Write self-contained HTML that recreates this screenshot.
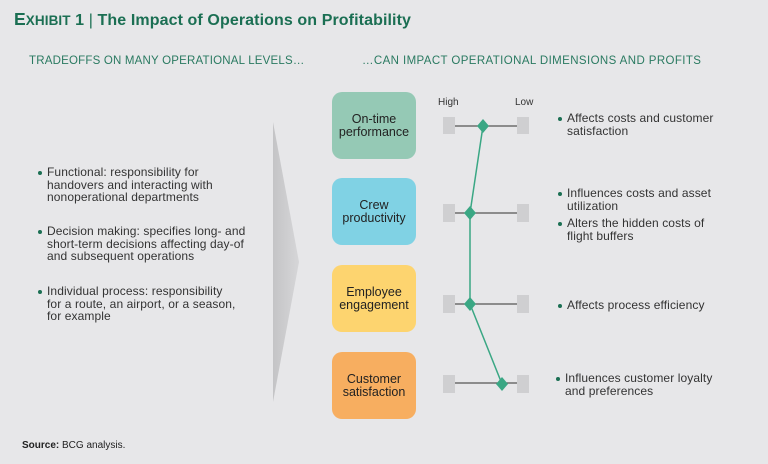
<!DOCTYPE html>
<html><head><style>
body{margin:0;width:768px;height:464px;background:#e7e7e9;font-family:"Liberation Sans",sans-serif;position:relative;overflow:hidden}
.a{position:absolute}
.t{color:#1b6f53;font-weight:bold;font-size:16px;left:14px;top:9px;letter-spacing:0.1px}
.h{color:#2a7a61;font-size:11.5px;letter-spacing:0.2px}
.box{position:absolute;left:332px;width:84px;height:67px;border-radius:10px;display:flex;align-items:center;justify-content:center;text-align:center;font-size:12.5px;line-height:13px;color:#222}
.bl{font-size:12px;line-height:12.5px;color:#333;letter-spacing:0.1px}
.bl:before{content:"";position:absolute;left:-9px;top:5px;width:4px;height:4px;border-radius:50%;background:#1b6f53}
.l{font-size:12px;line-height:12.5px;color:#333;letter-spacing:0.1px}
.l:before{content:"";position:absolute;left:-9px;top:5px;width:4px;height:4px;border-radius:50%;background:#1b6f53}
</style></head><body>
<div class="a t"><span style="font-size:17.5px">E</span><span style="font-size:13.5px">XHIBIT</span> 1<span style="font-weight:normal;color:#1b6f53"> | </span>The Impact of Operations on Profitability</div>
<div class="a h" style="left:29px;top:55px">TRADEOFFS ON MANY OPERATIONAL LEVELS…</div>
<div class="a h" style="left:362px;top:55px;letter-spacing:0.4px">…CAN IMPACT OPERATIONAL DIMENSIONS AND PROFITS</div>
<svg class="a" style="left:0;top:0" width="768" height="464">
<defs><linearGradient id="g" x1="0" x2="1"><stop offset="0" stop-color="#c4c4c6"/><stop offset="1" stop-color="#d6d6d8"/></linearGradient></defs>
<polygon points="273,122 299,262 273,402" fill="url(#g)"/>
<g fill="#cfcfd1"><rect x="443" y="117" width="12" height="17"/><rect x="517" y="117" width="12" height="17"/>
<rect x="443" y="204" width="12" height="18"/><rect x="517" y="204" width="12" height="18"/>
<rect x="443" y="295" width="12" height="18"/><rect x="517" y="295" width="12" height="18"/>
<rect x="443" y="375" width="12" height="18"/><rect x="517" y="375" width="12" height="18"/></g>
<g stroke="#555" stroke-width="1.3"><line x1="455" y1="126" x2="517" y2="126"/><line x1="455" y1="213" x2="517" y2="213"/><line x1="455" y1="304" x2="517" y2="304"/><line x1="455" y1="383" x2="517" y2="383"/></g>
<polyline points="483,126 470,213 470,304 502,384" fill="none" stroke="#3aa784" stroke-width="1.5"/>
<g fill="#3aa784"><polygon points="483,119 489,126 483,133 477,126"/><polygon points="470,206 476,213 470,220 464,213"/><polygon points="470,297 476,304 470,311 464,304"/><polygon points="502,377 508,384 502,391 496,384"/></g>
</svg>
<div class="a" style="left:438px;top:97px;font-size:10px;color:#333">High</div>
<div class="a" style="left:515px;top:97px;font-size:10px;color:#333">Low</div>
<div class="box" style="top:92px;background:#95c9b5">On-time<br>performance</div>
<div class="box" style="top:178px;background:#80d2e4">Crew<br>productivity</div>
<div class="box" style="top:265px;background:#fdd46f">Employee<br>engagement</div>
<div class="box" style="top:352px;background:#f7ae60">Customer<br>satisfaction</div>
<div class="a bl" style="left:47px;top:166px">Functional: responsibility for<br>handovers and interacting with<br>nonoperational departments</div>
<div class="a bl" style="left:47px;top:225px">Decision making: specifies long- and<br>short-term decisions affecting day-of<br>and subsequent operations</div>
<div class="a bl" style="left:47px;top:285px">Individual process: responsibility<br>for a route, an airport, or a season,<br>for example</div>
<div class="a l" style="left:567px;top:112px">Affects costs and customer<br>satisfaction</div>
<div class="a l" style="left:567px;top:187px">Influences costs and asset<br>utilization</div>
<div class="a l" style="left:567px;top:217px">Alters the hidden costs of<br>flight buffers</div>
<div class="a l" style="left:567px;top:299px">Affects process efficiency</div>
<div class="a l" style="left:565px;top:372px">Influences customer loyalty<br>and preferences</div>
<div class="a" style="left:22px;top:440px;font-size:10px;color:#222"><b>Source:</b> BCG analysis.</div>
</body></html>
